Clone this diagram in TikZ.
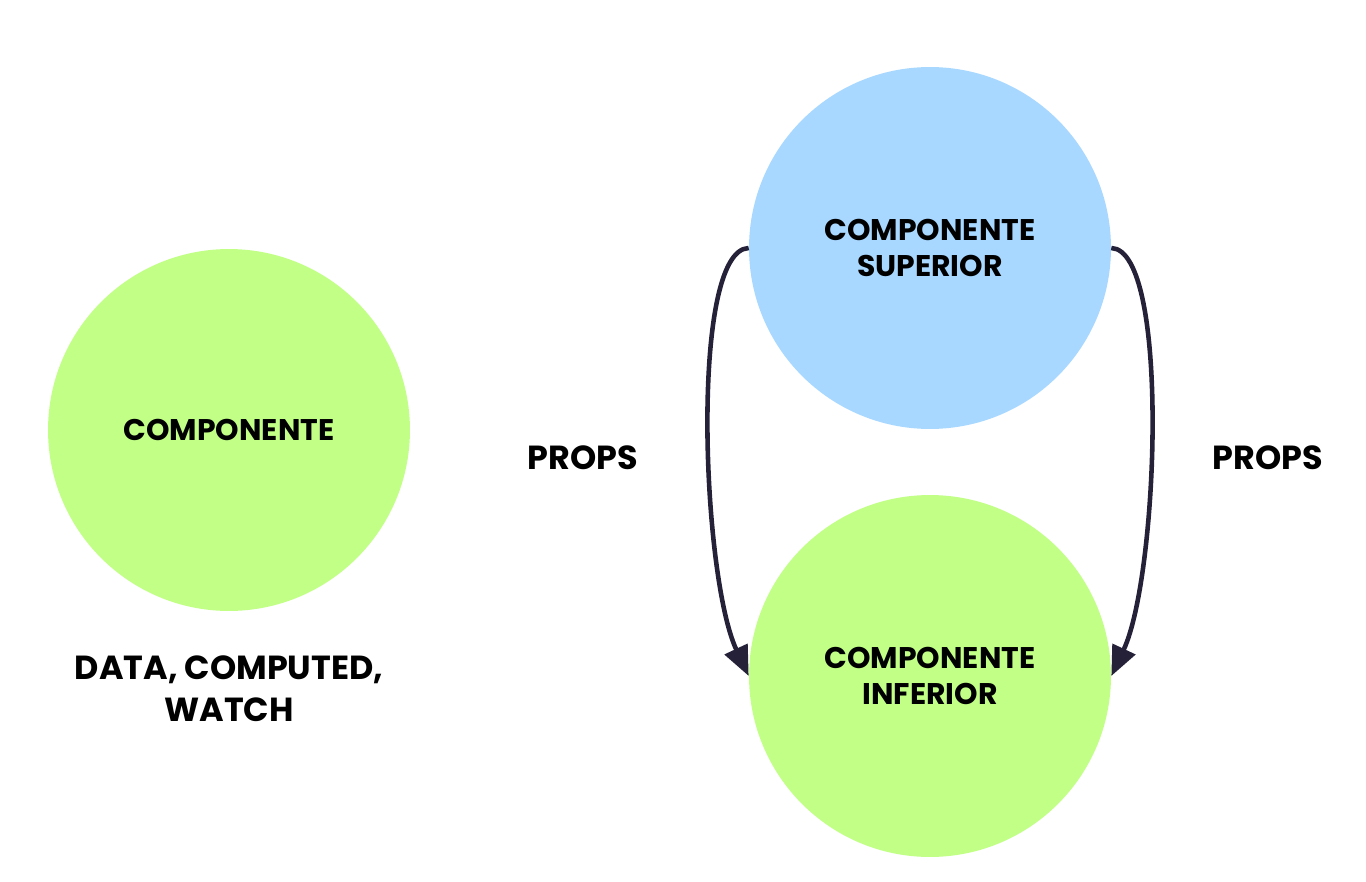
\documentclass[tikz,border=0pt]{standalone}
\usepackage{fontspec}
\setmainfont{Poppins}
\usetikzlibrary{arrows.meta,positioning}

\definecolor{lime}{RGB}{194,255,135}
\definecolor{sky}{RGB}{168,216,255}
\definecolor{ink}{RGB}{36,33,56}

\begin{document}
\begin{tikzpicture}[
    x=0.02cm, y=-0.02cm,
    %–––– GLOBAL STYLE TWEAKS ––––
    font=\bfseries,
    comp/.style  = {circle, minimum size=7.24cm, inner sep=0pt,
                    align=center, font=\fontsize{17}{20}\selectfont\bfseries},
    label/.style = {align=center, font=\fontsize{19}{24}\selectfont\bfseries},
    arrow/.style = {-{Triangle[length=17pt,width=14pt]}, line width=2.6pt, draw=ink},
]
\useasboundingbox (0,0) rectangle (1366,882);

%–––– COMPONENTS ––––
\node (comp_single) [comp, fill=lime] at (229,430) {COMPONENTE};
\node (comp_sup)    [comp, fill=sky]  at (930,248) {COMPONENTE\\SUPERIOR};
\node (comp_inf)    [comp, fill=lime] at (930,676) {COMPONENTE\\INFERIOR};

%–––– LABELS ––––
\node (state)       [label] at (229,689) {DATA, COMPUTED,\\WATCH};
\node (props_left)  [label] at (583,458) {PROPS};
\node (props_right) [label] at (1268,458) {PROPS};

%–––– ARROWS ––––
\draw[arrow] (comp_sup.west) .. controls +(-59,2) and +(-47,-100) .. (comp_inf.west);
\draw[arrow] (comp_sup.east) .. controls +(59,2) and +(47,-100) .. (comp_inf.east);
\end{tikzpicture}
\end{document}
